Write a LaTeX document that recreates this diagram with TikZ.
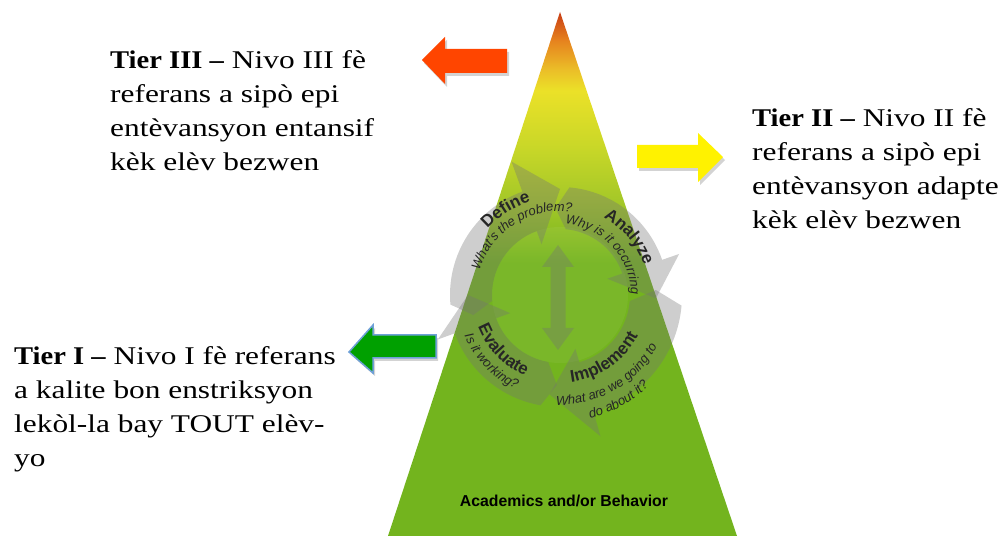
\documentclass[tikz,border=0pt]{standalone}
\usepackage{fontspec}
\setmainfont{Liberation Serif}[FakeStretch=1.23,BoldFeatures={FakeStretch=1.12}]
\setsansfont{Liberation Sans}
\usetikzlibrary{decorations.text,shadows}

\definecolor{pyrtop}{RGB}{200,60,20}
\definecolor{pyrorange}{RGB}{230,130,30}
\definecolor{pyrgold}{RGB}{235,190,40}
\definecolor{pyryellow}{RGB}{235,225,40}
\definecolor{pyrlime}{RGB}{200,215,40}
\definecolor{pyrlgreen}{RGB}{165,200,40}
\definecolor{pyrgreen}{RGB}{115,180,30}
\definecolor{tierred}{RGB}{255,69,0}
\definecolor{tieryellow}{RGB}{255,242,0}
\definecolor{tiergreen}{RGB}{0,160,0}
\definecolor{tierblue}{RGB}{110,160,215}

\pgfdeclareverticalshading{pyramid}{100bp}{color(0bp)=(pyrgreen); color(51bp)=(pyrgreen);
  color(57bp)=(pyrlgreen); color(62bp)=(pyrlime); color(67.5bp)=(pyryellow);
  color(69.5bp)=(pyrgold); color(72.3bp)=(pyrorange); color(75bp)=(pyrtop); color(100bp)=(pyrtop)}

\newcommand{\tiertext}{\fontsize{25.5}{34}\selectfont}
\newcommand{\cyctitle}{\fontsize{17}{17}\selectfont\sffamily\bfseries}
\newcommand{\cycsub}{\fontsize{13}{13}\selectfont\sffamily\itshape}

% #1 tail, #2 head base, #3 tip, #4 r in, #5 r out, #6 barb in, #7 barb out, #8 tip r
\newcommand{\cycarrow}[8]{%
  \fill[cyc] (#1:#5) arc[start angle=#1, end angle=#2, radius=#5] -- (#2:#7) -- (#3:#8)
    -- (#2:#6) -- (#2:#4) arc[start angle=#2, end angle=#1, radius=#4]
    -- ({#1+8}:{(#4+#5)/2}) -- cycle;}

\begin{document}
\begin{tikzpicture}
  [x=1pt,y=1pt,
   tier/.style ={align=left,anchor=north west,inner sep=0pt,font=\tiertext},
   blockarr/.style ={drop shadow={opacity=.35,shadow xshift=2pt,shadow yshift=-3pt}},
   cyc/.style ={fill=black!55,opacity=.35},
   cyclabel/.style ={decorate,decoration={text along path,text align=center,text color=black!85}}]
  \useasboundingbox (0,0) rectangle (1005,536);

  % pyramid
  \shade[shading=pyramid] (388,0) -- (560,524) -- (737,0) -- cycle;
  \node[font=\fontsize{15.8}{18}\selectfont\sffamily\bfseries,anchor=base] (acad) at (564,29) {Academics and/or Behavior};

  % problem solving cycle
  \begin{scope}[shift={(560,241)}]
    \fill[white,opacity=.05] (0,0) circle (68);
    \cycarrow{185}{110}{90}{68}{110}{54}{142}{106}
    \cycarrow{85}{19}{-2}{66}{108}{50}{126}{96}
    \cycarrow{-5}{-74}{-96}{70}{122}{56}{147}{100}
    \cycarrow{-100}{-160}{-180}{68}{112}{53}{130}{92}
    \fill[cyc] (-2,50) -- (14,28) -- (5.5,28) -- (5.5,-33) -- (14,-33) -- (-2,-55)
      -- (-18,-33) -- (-9.5,-33) -- (-9.5,28) -- (-18,28) -- cycle;
    \path[cyclabel,decoration={text={|\cyctitle|Define}}] (165:98) arc[start angle=165,end angle=80,radius=98];
    \path[cyclabel,decoration={text={|\cycsub|What's the problem?}}] (165:84) arc[start angle=165,end angle=80,radius=84];
    \path[cyclabel,decoration={text={|\cyctitle|Analyze}}] (80:89) arc[start angle=80,end angle=0,radius=89];
    \path[cyclabel,decoration={text={|\cycsub|Why is it occurring?}}] (80:71) arc[start angle=80,end angle=0,radius=71];
    \path[cyclabel,decoration={text={|\cyctitle|Evaluate}}] (184:88) arc[start angle=184,end angle=264,radius=88];
    \path[cyclabel,decoration={text={|\cycsub|Is it working?}}] (184:104) arc[start angle=184,end angle=264,radius=104];
    \path[cyclabel,decoration={text={|\cyctitle|Implement}}] (-100:88) arc[start angle=-100,end angle=-10,radius=88];
    \path[cyclabel,decoration={text={|\cycsub|What are we going to}}] (-105:110) arc[start angle=-105,end angle=-15,radius=110];
    \path[cyclabel,decoration={text={|\cycsub|do about it?}}] (-106:127) arc[start angle=-106,end angle=-16,radius=127];
  \end{scope}

  % tier arrows
  \fill[tierred,blockarr] (422,476) -- (445,499) -- (445,487) -- (507,487) -- (507,463) -- (445,463) -- (445,452) -- cycle;
  \fill[tieryellow,blockarr] (723,379) -- (698,403) -- (698,391) -- (637,391) -- (637,368) -- (698,368) -- (698,354) -- cycle;
  \filldraw[fill=tiergreen,draw=tierblue,line width=1.5pt,blockarr] (349,184) -- (373,211) -- (373,201) -- (436,201) -- (436,178) -- (373,178) -- (373,163) -- cycle;

  % tier texts
  \node[tier] (tier3) at (110,486) {\textbf{Tier III –} Nivo III fè\\referans a sipò epi\\entèvansyon entansif\\kèk elèv bezwen};
  \node[tier] (tier2) at (752,428) {\textbf{Tier II –} Nivo II fè\\referans a sipò epi\\entèvansyon adapte\\kèk elèv bezwen};
  \node[tier] (tier1) at (14,190) {\textbf{Tier I –} Nivo I fè referans\\a kalite bon enstriksyon\\lekòl-la bay TOUT elèv-\\yo};
\end{tikzpicture}
\end{document}
